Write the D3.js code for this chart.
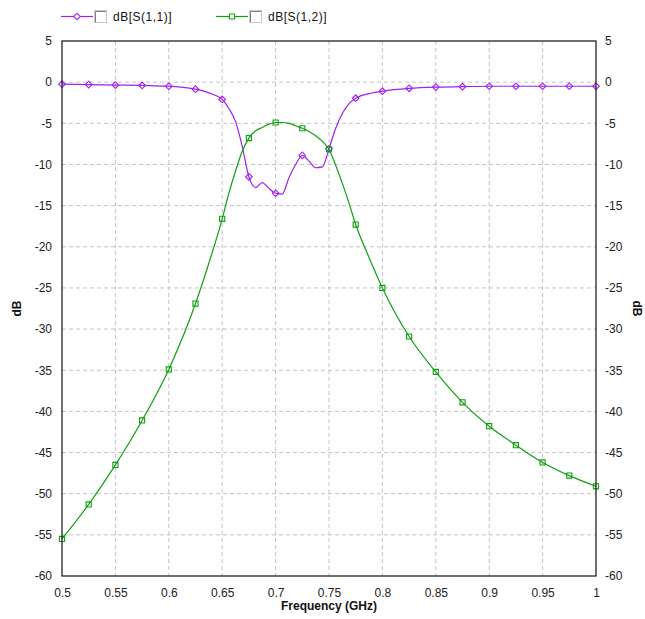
<!DOCTYPE html>
<meta charset="utf-8">
<html>
<script src="https://d3js.org/d3.v7.min.js"></script>
<body style="margin:0;background:#fff;">
<style>
    .tick text { font-family: Arial, "Liberation Sans", sans-serif; font-size: 12px; fill: #222; }
    .grid line { stroke: #c4c4c4; stroke-dasharray: 4,3; }
    .ttl { font-family: Arial, "Liberation Sans", sans-serif; font-size: 12px; font-weight: bold; fill: #111; }
    .leg { font-family: Arial, "Liberation Sans", sans-serif; font-size: 12px; fill: #111; letter-spacing: 0.5px; }
</style>
<div id="chart"></div>
<script>
    // frequency points (GHz), markers at every 0.025
    var freqs = [0.5, 0.525, 0.55, 0.575, 0.6, 0.625, 0.6375, 0.65, 0.65625, 0.6625, 0.66875,
        0.675, 0.68125, 0.6875, 0.69375, 0.7, 0.70625, 0.7125, 0.71875, 0.725, 0.73125, 0.7375,
        0.74375, 0.75, 0.75625, 0.7625, 0.76875, 0.775, 0.7875, 0.8, 0.825, 0.85, 0.875, 0.9,
        0.925, 0.95, 0.975, 1.0];

    var s11 = [-0.25, -0.3, -0.35, -0.4, -0.5, -0.85, -1.3, -2.1, -3.2, -4.8, -7.8,
        -11.5, -12.8, -12.2, -12.9, -13.5, -13.6, -11.6, -10.0, -8.9, -9.6, -10.4,
        -10.3, -8.1, -5.6, -3.8, -2.6, -1.95, -1.4, -1.1, -0.75, -0.6, -0.55, -0.5,
        -0.5, -0.5, -0.5, -0.5];

    var s12 = [-55.5, -51.3, -46.5, -41.1, -34.9, -26.9, -22.0, -16.6, -13.5, -10.8, -8.4,
        -6.8, -5.9, -5.5, -5.1, -4.9, -4.9, -5.0, -5.3, -5.6, -6.0, -6.5,
        -7.2, -8.15, -10.1, -12.3, -14.7, -17.3, -21.3, -25.0, -30.9, -35.2, -38.9, -41.8,
        -44.1, -46.2, -47.8, -49.1];

    var xTicks = [0.5, 0.55, 0.6, 0.65, 0.7, 0.75, 0.8, 0.85, 0.9, 0.95, 1];
    var yTicks = [5, 0, -5, -10, -15, -20, -25, -30, -35, -40, -45, -50, -55, -60];
    var names = ["dB[S(1,1)]", "dB[S(1,2)]"];
    var colors = ["#a020f0", "#10a010"];

    var margin = {top: 41, right: 49, bottom: 43, left: 62},
        width = 596 - margin.left,
        height = 576 - margin.top;

    var svg = d3.select("#chart").append("svg")
        .attr("width", 645)
        .attr("height", 619);

    var g = svg.append("g")
        .attr("transform", "translate(" + margin.left + "," + margin.top + ")");

    var x = d3.scaleLinear().domain([0.5, 1]).range([0, width]);
    var y = d3.scaleLinear().domain([-60, 5]).range([height, 0]);

    //grid
    g.append("g").attr("class", "grid")
        .selectAll("line").data(xTicks.slice(1, -1)).enter().append("line")
        .attr("x1", d => x(d)).attr("x2", d => x(d))
        .attr("y1", 0).attr("y2", height);
    g.append("g").attr("class", "grid")
        .selectAll("line").data(yTicks.slice(1, -1)).enter().append("line")
        .attr("y1", d => y(d)).attr("y2", d => y(d))
        .attr("x1", 0).attr("x2", width);

    //axes
    var fmt = d => String(d);
    g.append("g").attr("transform", "translate(0," + height + ")")
        .call(d3.axisBottom(x).tickValues(xTicks).tickFormat(fmt).tickSize(0).tickPadding(12))
        .call(a => a.select(".domain").remove());
    g.append("g")
        .call(d3.axisLeft(y).tickValues(yTicks).tickFormat(fmt).tickSize(0).tickPadding(10))
        .call(a => a.select(".domain").remove());
    g.append("g").attr("transform", "translate(" + width + ",0)")
        .call(d3.axisRight(y).tickValues(yTicks).tickFormat(fmt).tickSize(0).tickPadding(9))
        .call(a => a.select(".domain").remove());

    //axis titles
    svg.append("text").attr("class", "ttl")
        .attr("x", margin.left + width / 2).attr("y", 610)
        .attr("text-anchor", "middle").text("Frequency (GHz)");
    svg.append("text").attr("class", "ttl")
        .attr("transform", "translate(21," + (margin.top + height / 2) + ") rotate(-90)")
        .attr("text-anchor", "middle").text("dB");
    svg.append("text").attr("class", "ttl")
        .attr("transform", "translate(633," + (margin.top + height / 2) + ") rotate(90)")
        .attr("text-anchor", "middle").text("dB");

    //clip
    g.append("clipPath").attr("id", "clip").append("rect")
        .attr("x", -5).attr("y", 0).attr("width", width + 10).attr("height", height);

    // open rhombus for S11, open square for S12
    var diamond = d3.symbol().type(d3.symbolSquare).size(22);
    var square = d3.symbol().type(d3.symbolSquare).size(26);
    var shapes = [diamond, square];
    var rot = [45, 0];

    var isMarker = f => Math.abs(f * 40 - Math.round(f * 40)) < 1e-6;

    [s11, s12].forEach(function(vals, k) {
        var pts = freqs.map((f, i) => ({f: f, v: vals[i]}));
        var line = d3.line()
            .x(d => x(d.f)).y(d => y(d.v))
            .curve(d3.curveMonotoneX);
        var sg = g.append("g").attr("clip-path", "url(#clip)");
        sg.append("path").datum(pts)
            .attr("d", line)
            .attr("fill", "none")
            .attr("stroke", colors[k])
            .attr("stroke-width", 1.2);
        sg.selectAll("path.mk").data(pts.filter(d => isMarker(d.f))).enter().append("path")
            .attr("class", "mk")
            .attr("d", shapes[k])
            .attr("transform", d => "translate(" + x(d.f) + "," + y(d.v) + ") rotate(" + rot[k] + ")")
            .attr("fill", "none")
            .attr("stroke", colors[k])
            .attr("stroke-width", 1.1);
    });

    //border
    g.append("rect").attr("width", width).attr("height", height)
        .attr("fill", "none").attr("stroke", "#111").attr("stroke-width", 1.2);

    //legend
    var legX = [61, 216];
    names.forEach(function(n, k) {
        var lg = svg.append("g").attr("transform", "translate(" + legX[k] + ",0)");
        lg.append("line").attr("x1", 0).attr("x2", 32).attr("y1", 16.5).attr("y2", 16.5)
            .attr("stroke", colors[k]).attr("stroke-width", 1.2);
        lg.append("path").attr("d", shapes[k])
            .attr("transform", "translate(16,16.5) rotate(" + rot[k] + ")")
            .attr("fill", "#fff").attr("stroke", colors[k]).attr("stroke-width", 1.1);
        lg.append("rect").attr("x", 33.5).attr("y", 10.5).attr("width", 12).attr("height", 12)
            .attr("fill", "#fff").attr("stroke", "#c8c8c8");
        lg.append("path").attr("d", "M34.5,22V11.5H45")
            .attr("fill", "none").attr("stroke", "#808080");
        lg.append("text").attr("class", "leg")
            .attr("x", 52).attr("y", 21).text(n);
    });
</script>
</body>
</html>
